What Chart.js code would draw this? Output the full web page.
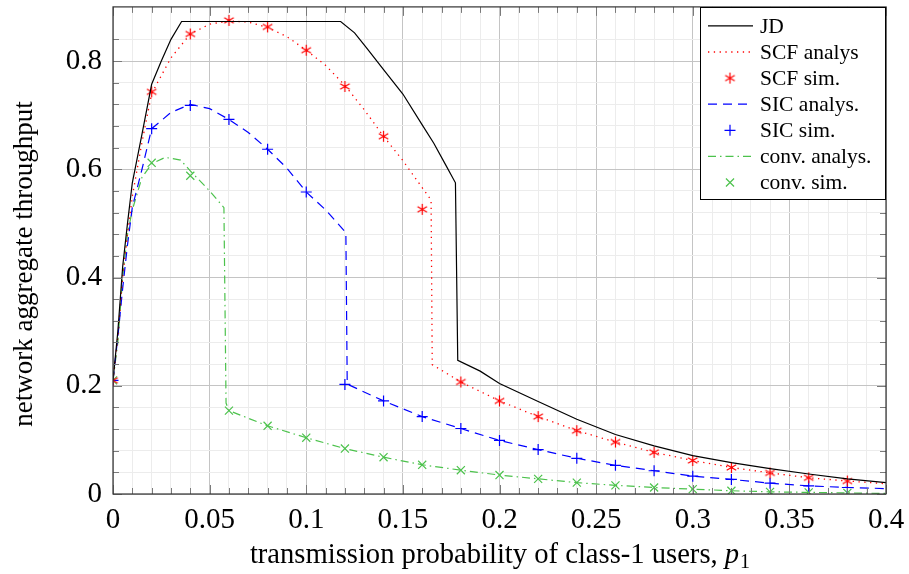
<!DOCTYPE html>
<html>
<head>
<meta charset="utf-8">
<script src="https://cdn.jsdelivr.net/npm/chart.js@4.4.0/dist/chart.umd.min.js"></script>
<style>
  html, body { margin: 0; padding: 0; background: #fff; }
</style>
</head>
<body>
<canvas id="throughputChart" width="909" height="574"></canvas>
<script>
// JD curve
const jdX = [0, 0.0025, 0.005, 0.0075, 0.01, 0.015, 0.02, 0.025, 0.03, 0.0355, 0.1178, 0.125, 0.131, 0.14, 0.15, 0.16, 0.166, 0.172, 0.1772,
             0.1784, 0.19, 0.2, 0.22, 0.24, 0.26, 0.28, 0.3, 0.32, 0.34, 0.36, 0.38, 0.4];
const jdY = [0.21, 0.30, 0.42, 0.50, 0.575, 0.665, 0.757, 0.80, 0.84, 0.873, 0.873, 0.852, 0.825, 0.784, 0.739, 0.682, 0.648, 0.609, 0.575,
             0.247, 0.227, 0.204, 0.171, 0.138, 0.110, 0.089, 0.071, 0.058, 0.047, 0.037, 0.028, 0.021];

// SCF analysis
const scfX = [0, 0.0025, 0.005, 0.0075, 0.01, 0.015, 0.02, 0.03, 0.04, 0.05, 0.06, 0.07, 0.08, 0.09, 0.1, 0.11, 0.12, 0.13, 0.14, 0.15, 0.1646,
              0.1652, 0.18, 0.2, 0.22, 0.24, 0.26, 0.28, 0.3, 0.32, 0.34, 0.36, 0.38, 0.4];
const scfY = [0.21, 0.29, 0.40, 0.48, 0.55, 0.65, 0.74, 0.806, 0.850, 0.868, 0.874, 0.872, 0.862, 0.845, 0.820, 0.792, 0.755, 0.71, 0.661, 0.616, 0.543,
              0.239, 0.207, 0.172, 0.143, 0.117, 0.096, 0.077, 0.062, 0.049, 0.039, 0.030, 0.024, 0.019];

// SIC analysis
const sicX = [0, 0.0025, 0.005, 0.0075, 0.01, 0.015, 0.02, 0.03, 0.04, 0.05, 0.06, 0.07, 0.08, 0.09, 0.1, 0.11, 0.1205,
              0.1212, 0.14, 0.16, 0.18, 0.2, 0.22, 0.24, 0.26, 0.28, 0.3, 0.32, 0.34, 0.36, 0.38, 0.4];
const sicY = [0.21, 0.29, 0.38, 0.46, 0.53, 0.60, 0.675, 0.705, 0.72, 0.712, 0.692, 0.668, 0.637, 0.602, 0.558, 0.525, 0.483,
              0.203, 0.172, 0.143, 0.121, 0.099, 0.082, 0.066, 0.053, 0.043, 0.033, 0.027, 0.020, 0.015, 0.012, 0.010];

// conventional analysis
const convX = [0, 0.0025, 0.005, 0.0075, 0.01, 0.015, 0.02, 0.027, 0.035, 0.04, 0.05, 0.0574,
               0.0585, 0.06, 0.08, 0.1, 0.12, 0.14, 0.16, 0.18, 0.2, 0.22, 0.24, 0.26, 0.28, 0.3, 0.32, 0.34, 0.36, 0.38, 0.4];
const convY = [0.21, 0.28, 0.40, 0.48, 0.525, 0.585, 0.61, 0.622, 0.617, 0.597, 0.56, 0.529,
               0.168, 0.154, 0.126, 0.104, 0.084, 0.068, 0.054, 0.044, 0.035, 0.028, 0.021, 0.016, 0.012, 0.009, 0.006, 0.004, 0.003, 0.002, 0.001];

// simulation points
const simX = [0, 0.02, 0.04, 0.06, 0.08, 0.1, 0.12, 0.14, 0.16, 0.18, 0.2, 0.22, 0.24, 0.26, 0.28, 0.3, 0.32, 0.34, 0.36, 0.38];
const scfSimY = [0.21, 0.743, 0.850, 0.875, 0.863, 0.820, 0.753, 0.661, 0.526, 0.207, 0.172, 0.143, 0.117, 0.096, 0.077, 0.062, 0.049, 0.039, 0.030, 0.024];
const sicSimY = [0.21, 0.675, 0.718, 0.692, 0.637, 0.558, 0.2025, 0.172, 0.143, 0.121, 0.099, 0.082, 0.066, 0.053, 0.043, 0.033, 0.027, 0.020, 0.015, 0.012];
const convSimY = [0.21, 0.612, 0.588, 0.154, 0.126, 0.104, 0.084, 0.068, 0.054, 0.044, 0.035, 0.028, 0.021, 0.016, 0.012, 0.009, 0.006, 0.004, 0.003, 0.002];

const xLabel = 'transmission probability of class-1 users, ';
const yLabel = 'network aggregate throughput';

const FONT = '"Liberation Serif", "Times New Roman", serif';
const RED = '#ff0000', BLUE = '#0000ff', GREEN = '#4cc24c';

function pts(xs, ys) {
    return xs.map((x, i) => ({ x: x, y: ys[i] }));
}

// asterisk mark (6 arms)
function makeAsterisk(color, r) {
    const c = document.createElement('canvas');
    const s = Math.ceil(r * 2 + 2);
    c.width = s; c.height = s;
    const g = c.getContext('2d');
    g.strokeStyle = color;
    g.lineWidth = 1.2;
    g.beginPath();
    for (let k = 0; k < 3; k++) {
        const a = Math.PI / 2 + k * Math.PI / 3;
        g.moveTo(s / 2 + Math.cos(a) * r, s / 2 + Math.sin(a) * r);
        g.lineTo(s / 2 - Math.cos(a) * r, s / 2 - Math.sin(a) * r);
    }
    g.stroke();
    return c;
}
const asterisk = makeAsterisk(RED, 5.5);

function lineSet(label, xs, ys, color, dash, width) {
    return {
        label: label, data: pts(xs, ys), showLine: true,
        borderColor: color, borderWidth: width, borderDash: dash,
        pointRadius: 0, pointHoverRadius: 0, tension: 0, fill: false
    };
}
function simSet(label, ys, color, style, radius) {
    return {
        label: label, data: pts(simX, ys), showLine: false,
        borderColor: color, backgroundColor: color, borderWidth: 1.2,
        pointStyle: style, pointRadius: radius
    };
}

// no automatic label overflow padding: the frame is placed by hand
function fixPad(s) {
    s.paddingTop = 0; s.paddingBottom = 0; s.paddingLeft = 0; s.paddingRight = 0;
}

// frame and tick marks drawn inside (pgfplots style)
const innerTicks = {
    id: 'innerTicks',
    afterDatasetsDraw(chart) {
        const ctx = chart.ctx, a = chart.chartArea;
        const xs = chart.scales.x, ys = chart.scales.y;
        ctx.save();
        ctx.strokeStyle = '#7a7a7a';
        ctx.lineWidth = 1;
        ctx.beginPath();
        xs.ticks.forEach(t => {
            const major = Math.round(t.value * 100) % 5 === 0;
            const len = major ? 9 : 6;
            const px = Math.round(xs.getPixelForValue(t.value)) + 0.5;
            ctx.moveTo(px, a.bottom); ctx.lineTo(px, a.bottom - len);
            ctx.moveTo(px, a.top); ctx.lineTo(px, a.top + len);
        });
        ys.ticks.forEach(t => {
            if (t.value > 0.89) return;
            const major = Math.round(t.value * 100) % 20 === 0;
            const len = major ? 9 : 6;
            const py = Math.round(ys.getPixelForValue(t.value)) + 0.5;
            ctx.moveTo(a.left, py); ctx.lineTo(a.left + len, py);
            ctx.moveTo(a.right, py); ctx.lineTo(a.right - len, py);
        });
        ctx.stroke();
        ctx.strokeStyle = '#333';
        ctx.lineWidth = 1.2;
        ctx.strokeRect(a.left, a.top, a.right - a.left, a.bottom - a.top);
        ctx.restore();
    }
};

// axis titles with italic p_1
const axisTitles = {
    id: 'axisTitles',
    afterDraw(chart) {
        const ctx = chart.ctx, a = chart.chartArea;
        ctx.save();
        ctx.fillStyle = '#000';
        ctx.textBaseline = 'alphabetic';
        const f1 = '28.6px ' + FONT;
        const f2 = 'italic 28.6px ' + FONT;
        const f3 = '20px ' + FONT;
        ctx.font = f1; const w1 = ctx.measureText(xLabel).width;
        ctx.font = f2; const w2 = ctx.measureText('p').width;
        ctx.font = f3; const w3 = ctx.measureText('1').width;
        let x = (a.left + a.right) / 2 - (w1 + w2 + w3) / 2;
        const base = 563;
        ctx.textAlign = 'left';
        ctx.font = f1; ctx.fillText(xLabel, x, base); x += w1;
        ctx.font = f2; ctx.fillText('p', x, base); x += w2 + 1;
        ctx.font = f3; ctx.fillText('1', x, base + 5);

        ctx.translate(32, 264);
        ctx.rotate(-Math.PI / 2);
        ctx.textAlign = 'center';
        ctx.font = '27px ' + FONT;
        ctx.fillText(yLabel, 0, 0);
        ctx.restore();
    }
};

// legend box in the upper-right corner
const boxLegend = {
    id: 'boxLegend',
    afterDraw(chart) {
        const ctx = chart.ctx, a = chart.chartArea;
        const w = 186, h = 193;
        const x0 = a.right - w, y0 = a.top;
        ctx.save();
        ctx.fillStyle = '#fff';
        ctx.fillRect(x0, y0, w, h);
        ctx.strokeStyle = '#000';
        ctx.lineWidth = 1;
        ctx.strokeRect(Math.round(x0) + 0.5, Math.round(y0) + 0.5, w - 1, h - 1);
        chart.data.datasets.forEach((ds, i) => {
            const y = y0 + 19 + i * 26.1;
            const cx = x0 + 30;
            ctx.strokeStyle = ds.borderColor;
            if (ds.showLine) {
                ctx.lineWidth = ds.borderWidth;
                ctx.setLineDash(ds.borderDash || []);
                ctx.beginPath();
                ctx.moveTo(x0 + 8, y); ctx.lineTo(x0 + 53, y);
                ctx.stroke();
                ctx.setLineDash([]);
            } else if (ds.pointStyle === asterisk) {
                ctx.drawImage(asterisk, cx - asterisk.width / 2, y - asterisk.height / 2);
            } else {
                const r = ds.pointRadius;
                ctx.lineWidth = 1.2;
                ctx.beginPath();
                if (ds.pointStyle === 'cross') {
                    ctx.moveTo(cx - r, y); ctx.lineTo(cx + r, y);
                    ctx.moveTo(cx, y - r); ctx.lineTo(cx, y + r);
                } else {
                    const d = r * Math.SQRT1_2;
                    ctx.moveTo(cx - d, y - d); ctx.lineTo(cx + d, y + d);
                    ctx.moveTo(cx - d, y + d); ctx.lineTo(cx + d, y - d);
                }
                ctx.stroke();
            }
            ctx.fillStyle = '#000';
            ctx.font = '21.5px ' + FONT;
            ctx.textAlign = 'left';
            ctx.textBaseline = 'middle';
            ctx.fillText(ds.label, x0 + 60, y + 1);
        });
        ctx.restore();
    }
};

const ctx = document.getElementById('throughputChart').getContext('2d');
const chart = new Chart(ctx, {
    type: 'scatter',
    data: {
        datasets: [
            lineSet('JD', jdX, jdY, '#000000', [], 1.2),
            lineSet('SCF analys', scfX, scfY, RED, [1.3, 4.5], 1.3),
            simSet('SCF sim.', scfSimY, RED, asterisk, 5.5),
            lineSet('SIC analys.', sicX, sicY, BLUE, [9, 6], 1.2),
            simSet('SIC sim.', sicSimY, BLUE, 'cross', 5.5),
            lineSet('conv. analys.', convX, convY, GREEN, [8, 4, 1.5, 4], 1.2),
            simSet('conv. sim.', convSimY, GREEN, 'crossRot', 5.7)
        ]
    },
    options: {
        responsive: false,
        animation: false,
        devicePixelRatio: 1,
        layout: { padding: { left: 0, right: 23, top: 2, bottom: 0 } },
        plugins: {
            legend: { display: false },
            tooltip: { enabled: false }
        },
        scales: {
            x: {
                type: 'linear', min: 0, max: 0.4,
                afterFit: s => { s.height = 80; fixPad(s); },
                ticks: {
                    stepSize: 0.01, autoSkip: false, maxRotation: 0,
                    padding: 9, color: '#000',
                    font: { family: FONT, size: 29 },
                    callback: v => (Math.round(v * 100) % 5 === 0) ? String(Math.round(v * 100) / 100) : ''
                },
                grid: {
                    drawTicks: false,
                    color: c => (Math.round(c.tick.value * 100) % 5 === 0) ? '#c4c4c4' : '#ececec',
                    lineWidth: 1
                },
                border: { display: false }
            },
            y: {
                type: 'linear', min: 0, max: 0.9,
                afterFit: s => { s.width = 113; fixPad(s); },
                ticks: {
                    stepSize: 0.04, autoSkip: false,
                    padding: 11, color: '#000',
                    font: { family: FONT, size: 29 },
                    callback: v => (Math.round(v * 100) % 20 === 0 && v < 0.89) ? String(Math.round(v * 10) / 10) : ''
                },
                grid: {
                    drawTicks: false,
                    color: c => (c.tick.value > 0.89) ? 'rgba(0,0,0,0)' : ((Math.round(c.tick.value * 100) % 20 === 0) ? '#c4c4c4' : '#ececec'),
                    lineWidth: 1
                },
                border: { display: false }
            }
        }
    },
    plugins: [innerTicks, axisTitles, boxLegend]
});
</script>
</body>
</html>
